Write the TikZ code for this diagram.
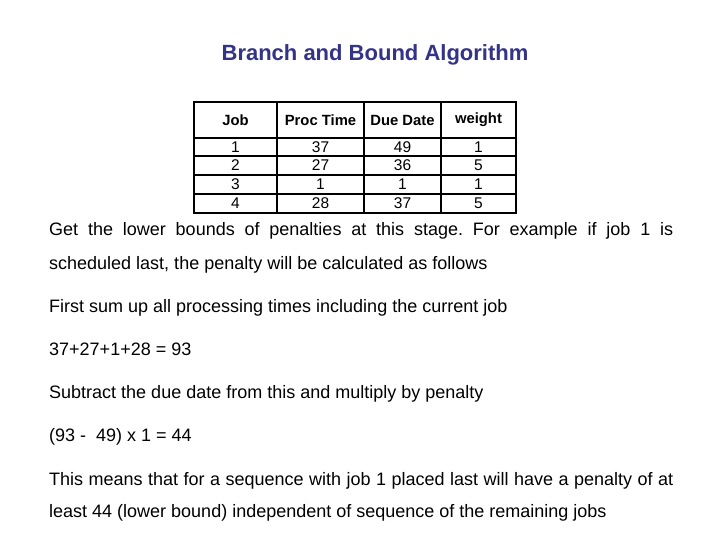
\documentclass[tikz,border=0pt]{standalone}
\usepackage{fontspec}
\setmainfont{Liberation Sans}
\definecolor{titleblue}{HTML}{333388}
\begin{document}
\frenchspacing
\begin{tikzpicture}[x=1pt,y=-1pt,
  txt/.style={anchor=base west,inner sep=0pt,font=\fontsize{18}{21}\selectfont},
  cell/.style={inner sep=0pt,font=\fontsize{15.5}{18}\selectfont},
  hcell/.style={inner sep=0pt,font=\fontsize{14.8}{17}\selectfont\bfseries}]
\useasboundingbox[fill=white] (0,0) rectangle (720,540);
\node[inner sep=0pt,text=titleblue,font=\fontsize{22}{26}\selectfont\bfseries] (title) at (375,55) {Branch and Bound Algorithm};
% table
\draw[line width=1.2pt] (194,102) rectangle (516,213);
\foreach \x in {277,364,441} \draw[line width=1.2pt] (\x,102) -- (\x,213);
\foreach \y in {138,156,175,194} \draw[line width=1.2pt] (194,\y) -- (516,\y);
\node[hcell] (h1) at (235.5,120) {Job};
\node[hcell] (h2) at (320.5,120) {Proc Time};
\node[hcell] (h3) at (402.5,120) {Due Date};
\node[hcell] (h4) at (478.5,120) {weight};
\foreach \r/\y/\a/\b/\c/\d in {1/147/1/37/49/1,2/165.5/2/27/36/5,3/184.5/3/1/1/1,4/203.5/4/28/37/5}{
  \node[cell] (r\r a) at (235.5,\y) {\a};
  \node[cell] (r\r b) at (320.5,\y) {\b};
  \node[cell] (r\r c) at (402.5,\y) {\c};
  \node[cell] (r\r d) at (478.5,\y) {\d};
}
\node[txt] (l1) at (49,236) {\makebox[624pt][s]{Get the lower bounds of penalties at this stage. For example if job 1 is}};
\node[txt] (l2) at (49,269) {scheduled last, the penalty will be calculated as follows};
\node[txt] (l3) at (49,312) {First sum up all processing times including the current job};
\node[txt] (l4) at (49,355) {37+27+1+28 = 93};
\node[txt] (l5) at (49,398) {Subtract the due date from this and multiply by penalty};
\node[txt] (l6) at (49,441) {(93 -\ \ 49) x 1 = 44};
\node[txt] (l7) at (49,485) {\makebox[624pt][s]{This means that for a sequence with job 1 placed last will have a penalty of at}};
\node[txt] (l8) at (49,517) {least 44 (lower bound) independent of sequence of the remaining jobs};
\end{tikzpicture}
\end{document}
